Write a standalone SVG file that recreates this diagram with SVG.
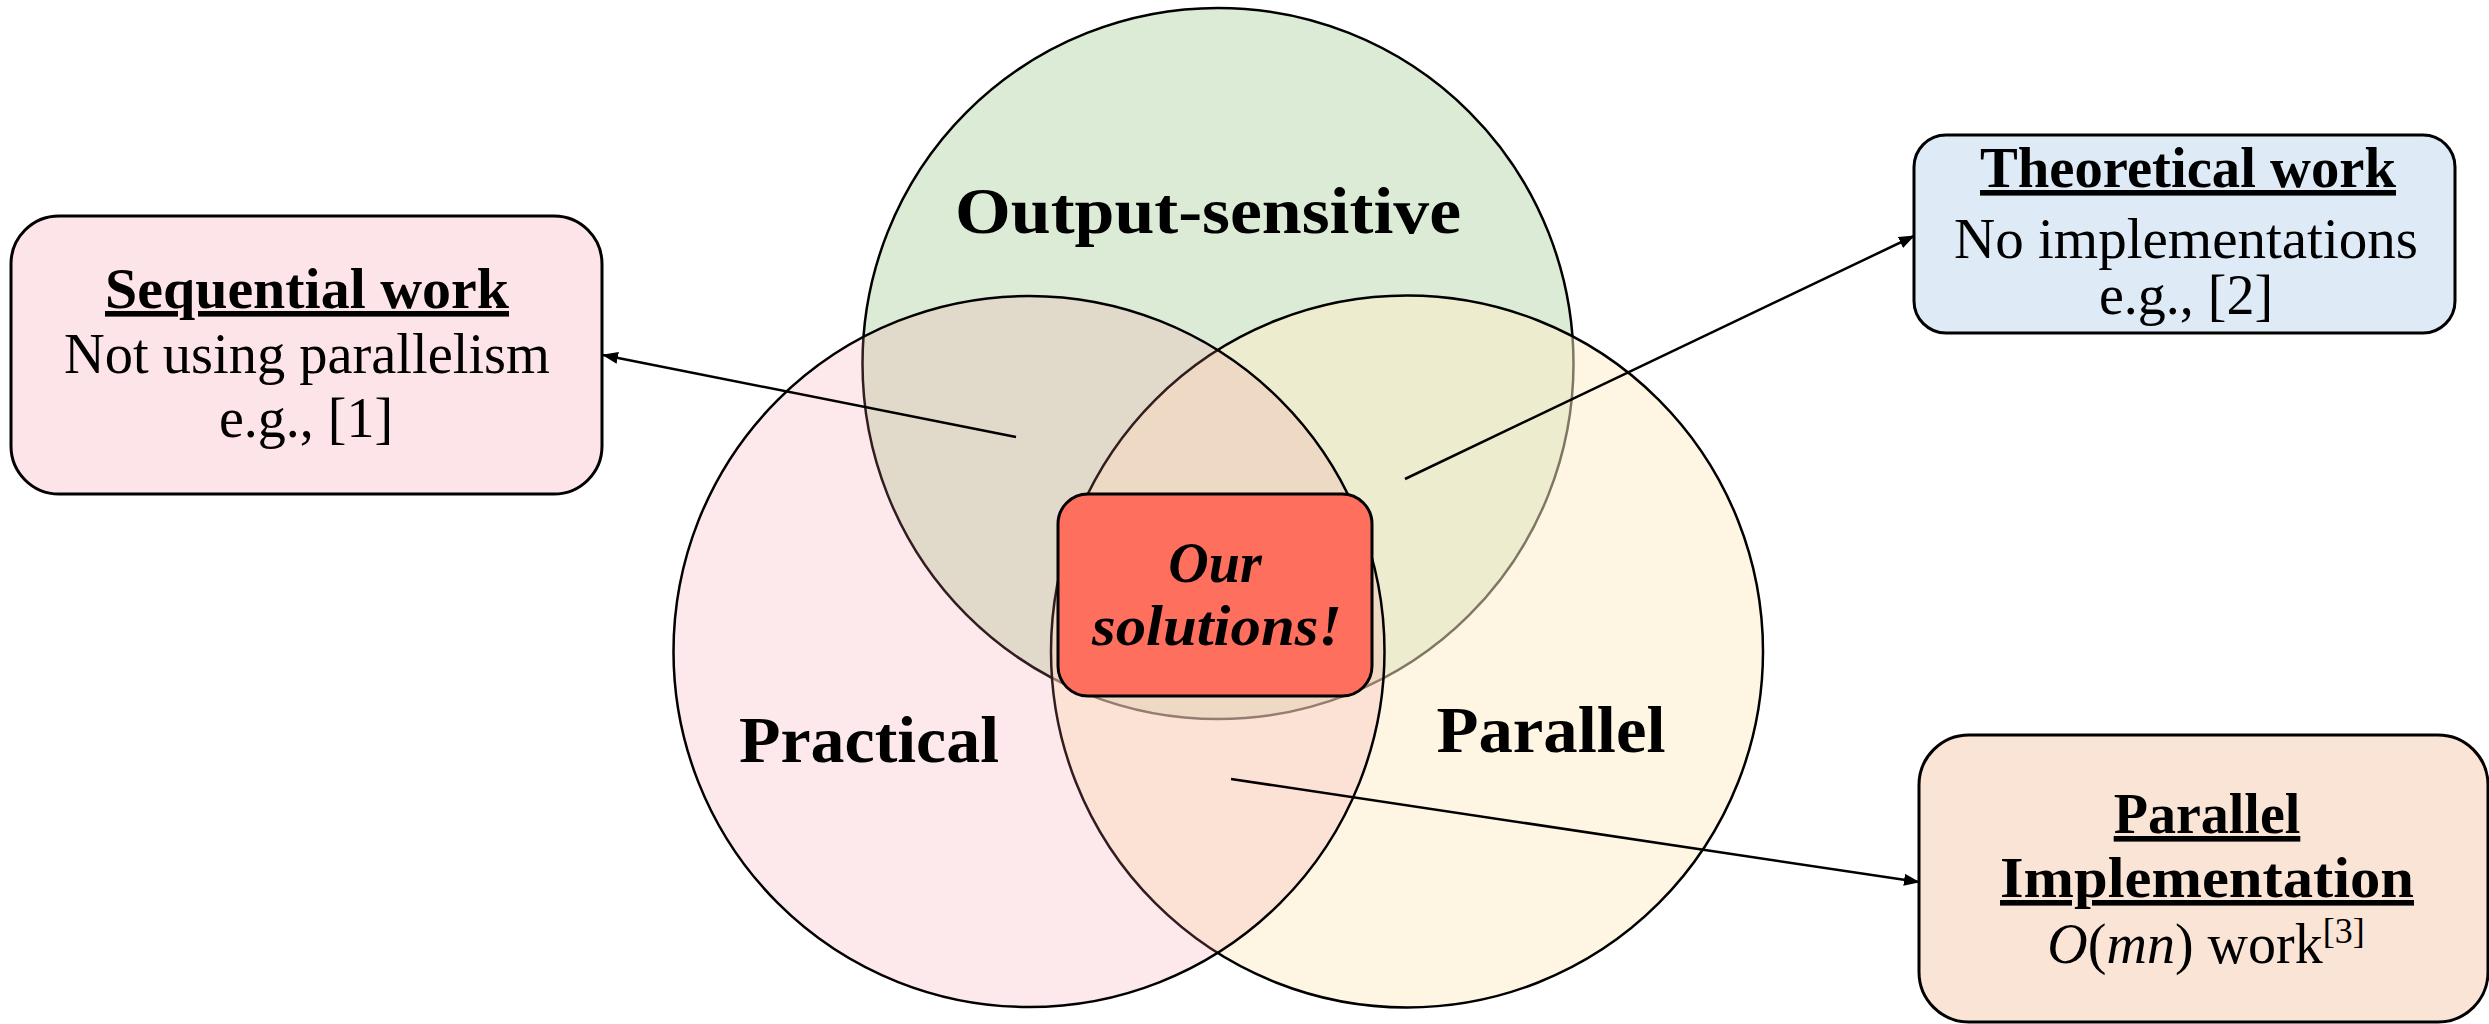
<svg xmlns="http://www.w3.org/2000/svg" width="2489" height="1024" viewBox="0 0 2489 1024">
  <style>
    text { font-family: "Liberation Serif", "DejaVu Serif", serif; fill: #000; text-anchor: middle; }
    .box { stroke: #000; stroke-width: 3; }
    .circ { stroke: #000; stroke-width: 2.5; }
    .t { font-size: 56px; }
    .b { font-weight: bold; }
    .u { text-decoration: underline; }
    .lbl { font-size: 66px; font-weight: bold; }
    .conn { stroke: #000; stroke-width: 2.5; fill: none; marker-end: url(#arrow); }
  </style>
  <defs>
    <marker id="arrow" viewBox="0 0 16 12" refX="15" refY="6" markerWidth="16" markerHeight="12" markerUnits="userSpaceOnUse" orient="auto">
      <path d="M0,0 L16,6 L0,12 z" fill="#000"/>
    </marker>
  </defs>
  <rect width="2489" height="1024" fill="#ffffff"/>

  <g id="circle-output-sensitive">
    <circle class="circ" cx="1218" cy="363.5" r="355.5" fill="#DCEBD5"/>
  </g>
  <g id="circle-parallel">
    <circle class="circ" cx="1407" cy="651.5" r="356" fill="#FDEDC7" fill-opacity="0.5"/>
  </g>
  <g id="circle-practical">
    <circle class="circ" cx="1029" cy="651.5" r="355.5" fill="#F591A0" fill-opacity="0.2"/>
  </g>

  <g id="labels">
    <text class="lbl" x="1208" y="233" textLength="506" lengthAdjust="spacingAndGlyphs">Output-sensitive</text>
    <text class="lbl" x="869" y="762" textLength="260" lengthAdjust="spacingAndGlyphs">Practical</text>
    <text class="lbl" x="1551" y="752" textLength="229" lengthAdjust="spacingAndGlyphs">Parallel</text>
  </g>

  <g id="connectors">
    <line class="conn" x1="1016" y1="437" x2="603" y2="355"/>
    <line class="conn" x1="1405" y1="479" x2="1914" y2="236"/>
    <line class="conn" x1="1231" y1="779" x2="1919" y2="882"/>
  </g>

  <g id="node-our-solutions">
    <rect class="box" x="1058" y="494" width="314" height="202" rx="30" ry="30" fill="#FF6F5E"/>
    <text class="t b" x="1215" y="582" font-style="italic">Our</text>
    <text class="t b" x="1217" y="645" font-style="italic" textLength="250" lengthAdjust="spacingAndGlyphs">solutions!</text>
  </g>

  <g id="node-sequential">
    <rect class="box" x="11" y="216" width="591" height="278" rx="48" ry="48" fill="#FDE4E8"/>
    <text class="t b u" x="307" y="308" textLength="404" lengthAdjust="spacingAndGlyphs">Sequential work</text>
    <text class="t" x="307" y="373" textLength="486" lengthAdjust="spacingAndGlyphs">Not using parallelism</text>
    <text class="t" x="306" y="437">e.g., [1]</text>
  </g>

  <g id="node-theoretical">
    <rect class="box" x="1914" y="135" width="541" height="198" rx="32" ry="32" fill="#DEEAF6"/>
    <text class="t b u" x="2188" y="187" textLength="416" lengthAdjust="spacingAndGlyphs">Theoretical work</text>
    <text class="t" x="2186" y="258" textLength="464" lengthAdjust="spacingAndGlyphs">No implementations</text>
    <text class="t" x="2186" y="314">e.g., [2]</text>
  </g>

  <g id="node-parallel-implementation">
    <rect class="box" x="1919" y="735" width="569" height="287" rx="50" ry="50" fill="#FAE4D6"/>
    <text class="t b u" x="2207" y="833">Parallel</text>
    <text class="t b u" x="2207" y="897" textLength="414" lengthAdjust="spacingAndGlyphs">Implementation</text>
    <text class="t" x="2206" y="963"><tspan font-style="italic">O</tspan>(<tspan font-style="italic">mn</tspan>) work<tspan font-size="36" dy="-20">[3]</tspan></text>
  </g>
</svg>
